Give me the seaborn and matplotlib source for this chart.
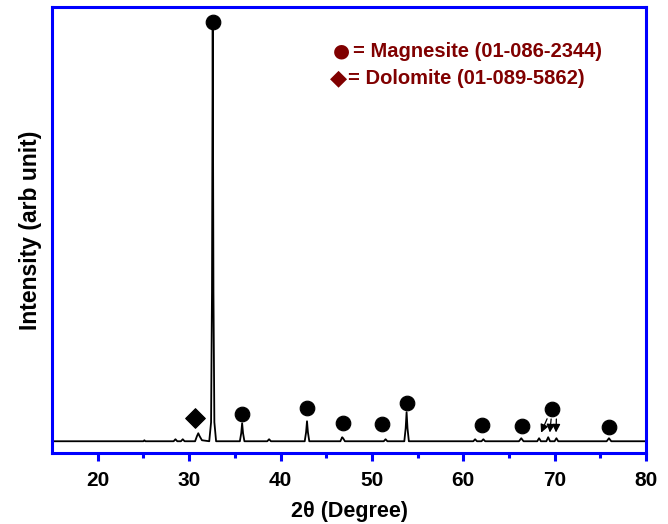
import matplotlib
matplotlib.use('Agg')
import matplotlib.pyplot as plt
import seaborn as sns
import pandas as pd

# XRD trace (intensity in arb. units above baseline)
two_theta = [15.0, 20.0, 25.0, 25.1, 25.2, 28.3, 28.5, 28.7, 29.1, 29.3, 29.5,
             30.65, 30.85, 31.0, 31.15, 31.4,
             32.2, 32.4, 32.5, 32.58, 32.66, 32.76, 32.95,
             35.55, 35.7, 35.8, 35.9, 36.05,
             38.55, 38.75, 38.95,
             42.65, 42.8, 42.9, 43.0, 43.15,
             46.55, 46.75, 46.85, 47.05,
             51.3, 51.5, 51.7,
             53.55, 53.7, 53.8, 53.9, 54.05,
             61.1, 61.3, 61.5, 62.0, 62.2, 62.4,
             66.1, 66.35, 66.6,
             68.1, 68.3, 68.5, 69.1, 69.3, 69.5, 70.0, 70.2, 70.4,
             75.7, 75.95, 76.2, 80.0]
intensity = [1, 1, 1, 2, 1, 1, 3, 1, 1, 3, 1,
             1, 6, 9, 6, 2,
             1, 20, 150, 420, 150, 20, 1,
             1, 9, 19, 9, 1,
             1, 3, 1,
             1, 10, 21, 10, 1,
             1, 5, 4, 1,
             1, 3, 1,
             1, 14, 30, 14, 1,
             1, 3, 1, 1, 3, 1,
             1, 4, 1,
             1, 4, 1, 1, 5, 1, 1, 4, 1,
             1, 4, 1, 1]

# phase markers
magnesite_x = [32.6, 35.8, 42.9, 46.8, 51.1, 53.8, 62.1, 66.4, 69.7, 76.0]
magnesite_y = [420, 28, 34, 19, 18, 39, 17, 16, 33, 15]
dolomite_x = [30.6]
dolomite_y = [24]

# arrows from the 69.7 marker to the three small peaks
arrow_tails = [(69.3, 26), (69.65, 26), (70.2, 26)]
arrow_tips = [(68.4, 7), (69.45, 7), (70.15, 7)]

df = pd.DataFrame({'two_theta': two_theta, 'intensity': intensity})
mg = pd.DataFrame({'x': magnesite_x, 'y': magnesite_y})
dol = pd.DataFrame({'x': dolomite_x, 'y': dolomite_y})

sns.set_style('white')
plt.rcParams['font.family'] = ['Liberation Sans', 'DejaVu Sans']
plt.rcParams['text.color'] = 'black'
plt.rcParams['axes.labelcolor'] = 'black'

fig = plt.figure(figsize=(6.68, 5.24), dpi=100)
ax = fig.add_axes([0.078, 0.135, 0.889, 0.852])

sns.lineplot(data=df, x='two_theta', y='intensity', ax=ax, color='black', linewidth=1.3)
sns.scatterplot(data=mg, x='x', y='y', ax=ax, color='black', s=110, marker='o',
                edgecolor='black', zorder=5)
sns.scatterplot(data=dol, x='x', y='y', ax=ax, color='black', s=100, marker='D',
                edgecolor='black', zorder=5)

for (tx, ty), (hx, hy) in zip(arrow_tails, arrow_tips):
    ax.annotate('', xy=(hx, hy), xytext=(tx, ty),
                arrowprops=dict(arrowstyle='-|>', color='black', lw=0.9,
                                mutation_scale=12))

ax.set_xlim(15, 80)
ax.set_ylim(-11, 435)

for sp in ax.spines.values():
    sp.set_color('blue')
    sp.set_linewidth(2.2)

ax.set_xticks([20, 30, 40, 50, 60, 70, 80])
ax.set_xticks([25, 35, 45, 55, 65, 75], minor=True)
ax.tick_params(axis='x', which='major', direction='out', length=6, width=2.2,
               color='blue', labelcolor='black', bottom=True, labelsize=15, pad=7)
ax.tick_params(axis='x', which='minor', direction='out', length=3.5, width=2.2,
               color='blue', bottom=True)
ax.set_yticks([])
for lab in ax.get_xticklabels():
    lab.set_fontweight('bold')

ax.set_xlabel('2θ (Degree)', fontsize=15.5, fontweight='bold', labelpad=8)
ax.set_ylabel('Intensity (arb unit)', fontsize=16.5, fontweight='bold', labelpad=7)

red = '#800000'
ax.text(0.473, 0.9, '●', transform=ax.transAxes, color=red, fontsize=14,
        family='DejaVu Sans', va='center')
ax.text(0.507, 0.9, '= Magnesite (01-086-2344)', transform=ax.transAxes,
        color=red, fontsize=14.5, fontweight='bold', va='center')
ax.text(0.468, 0.84, '◆', transform=ax.transAxes, color=red, fontsize=16,
        family='DejaVu Sans', va='center')
ax.text(0.499, 0.84, '= Dolomite (01-089-5862)', transform=ax.transAxes,
        color=red, fontsize=14.5, fontweight='bold', va='center')

plt.savefig('out.png', dpi=100)
